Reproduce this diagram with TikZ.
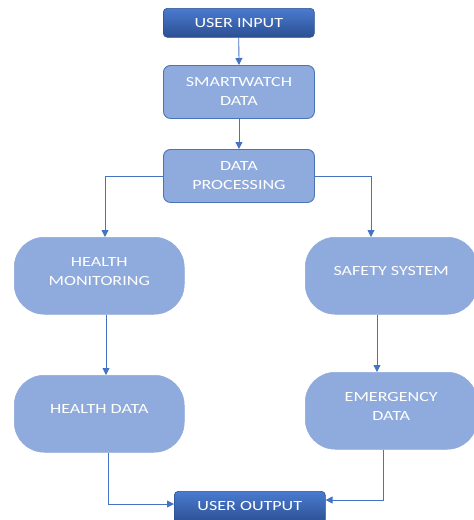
\documentclass[tikz,border=0pt]{standalone}
\usepackage{fontspec}
\setmainfont{Carlito}[FakeStretch=1.29]
\usetikzlibrary{arrows.meta,calc}
\definecolor{boxfill}{HTML}{8FAADC}
\definecolor{boxedge}{HTML}{4A74B8}
\definecolor{linec}{HTML}{4472C4}
\definecolor{gtop}{HTML}{4A7BD0}
\definecolor{gbot}{HTML}{2B4F92}
\tikzset{
  txt/.style={text=white, align=center, font=\fontsize{14}{19}\selectfont, inner sep=0pt},
  gradbox/.style={txt, rounded corners=4pt, top color=gtop, bottom color=gbot, draw=gbot, line width=0.6pt, anchor=north west},
  procbox/.style={txt, rounded corners=7pt, fill=boxfill, draw=boxedge, line width=0.9pt, anchor=north west},
  stadium/.style={rounded corners=30pt, fill=boxfill, draw=boxfill, line width=0.5pt, anchor=north west, inner sep=0pt},
  conn/.style={draw=linec, line width=0.8pt, -{Triangle[length=7pt,width=7pt]}},
}
\begin{document}
\begin{tikzpicture}[x=1pt,y=-1pt]
\useasboundingbox (0,0) rectangle (474,520);
% top boxes
\node[gradbox, minimum width=151pt, minimum height=29pt] (ui) at (163,8) {USER INPUT};
\node[procbox, minimum width=151pt, minimum height=53pt] (sw) at (163,65) {SMARTWATCH\\DATA};
\node[procbox, minimum width=151pt, minimum height=53pt] (dp) at (163,149) {DATA\\PROCESSING};
% stadiums
\node[stadium, minimum width=170pt, minimum height=77pt] (hm) at (14,237) {};
\node[txt] (hmt) at ($(hm.center)+(0,-4)$) {HEALTH\\MONITORING};
\node[stadium, minimum width=172pt, minimum height=77pt] (ss) at (305,237) {};
\node[txt] (sst) at ($(ss.center)+(0,-5)$) {SAFETY SYSTEM};
\node[stadium, minimum width=170pt, minimum height=77pt] (hd) at (14,375) {};
\node[txt] (hdt) at ($(hd.center)+(0,-5)$) {HEALTH DATA};
\node[stadium, minimum width=172pt, minimum height=77pt] (em) at (305,372) {};
\node[txt] (emt) at ($(em.center)+(0,-4)$) {EMERGENCY\\DATA};
% output
\node[gradbox, minimum width=151pt, minimum height=32pt] (uo) at (174,491) {\raisebox{3pt}{USER OUTPUT}};
% connectors
\draw[conn] (ui.south) -- (sw.north);
\draw[conn] (sw.south) -- (dp.north);
\coordinate (dpl) at ($(dp.north west)+(0,27)$);
\coordinate (dpr) at ($(dp.north east)+(0,27)$);
\draw[conn] (dpl) -| ($(hm.north west)+(91,0)$);
\draw[conn] (dpr) -| ($(ss.north west)+(66,0)$);
\draw[conn] ($(hm.south west)+(92,0)$) -- ($(hd.north west)+(92,0)$);
\draw[conn] ($(ss.south west)+(72,0)$) -- ($(em.north west)+(72,0)$);
\draw[conn] ($(hd.south west)+(94,0)$) |- ($(uo.north west)+(0,13)$);
\draw[conn] ($(em.south west)+(78,0)$) |- ($(uo.north east)+(0,9)$);
\end{tikzpicture}
\end{document}
